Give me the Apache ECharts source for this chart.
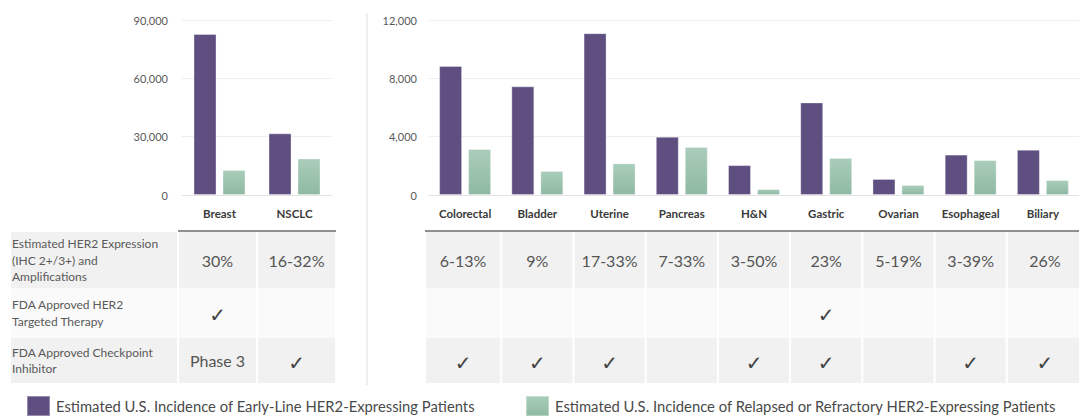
<!DOCTYPE html>
<html>
<head>
<meta charset="utf-8">
<script src="https://cdn.jsdelivr.net/npm/echarts@6/dist/echarts.min.js"></script>
<style>
  html, body { margin: 0; padding: 0; background: #ffffff; }
  #chart { width: 1079px; height: 418px; }
</style>
</head>
<body>
<div id="chart"></div>
<script>
// data
const leftCategories = ['Breast', 'NSCLC']
const leftEarly = [82800, 31700]
const leftRelapsed = [12900, 18800]

const rightCategories = ['Colorectal', 'Bladder', 'Uterine', 'Pancreas', 'H&N', 'Gastric', 'Ovarian', 'Esophageal', 'Biliary']
const rightEarly = [8850, 7450, 11100, 4000, 2050, 6350, 1100, 2770, 3110]
const rightRelapsed = [3150, 1650, 2170, 3290, 410, 2540, 690, 2400, 1030]

const rowLabels = [
  'Estimated HER2 Expression\n(IHC 2+/3+) and\nAmplifications',
  'FDA Approved HER2\nTargeted Therapy',
  'FDA Approved Checkpoint\nInhibitor'
]
const leftExpression = ['30%', '16-32%']
const leftTargeted = ['✓', '']
const leftCheckpoint = ['Phase 3', '✓']
const rightExpression = ['6-13%', '9%', '17-33%', '7-33%', '3-50%', '23%', '5-19%', '3-39%', '26%']
const rightTargeted = ['', '', '', '', '', '✓', '', '', '']
const rightCheckpoint = ['✓', '✓', '✓', '', '✓', '✓', '', '✓', '✓']

const earlyName = 'Estimated U.S. Incidence of Early-Line HER2-Expressing Patients'
const relapsedName = 'Estimated U.S. Incidence of Relapsed or Refractory HER2-Expressing Patients'

const FONT = 'Lato, "Open Sans", sans-serif'
const PURPLE = '#5e4f80'
const GREEN = new echarts.graphic.LinearGradient(0, 0, 0, 1, [
  {offset: 0, color: '#a9cdba'},
  {offset: 1, color: '#8fb9a2'}
])

let chart = echarts.init(document.getElementById('chart'), null, {renderer: 'svg'})

function yAxisCfg(gridIndex, max, interval, margin) {
  return {
    type: 'value', gridIndex: gridIndex, min: 0, max: max, interval: interval,
    axisLine: {show: false}, axisTick: {show: false},
    splitLine: {lineStyle: {color: '#eeeeee'}},
    axisLabel: {
      color: '#595959', fontSize: 11, fontFamily: FONT, margin: margin,
      formatter: v => v.toLocaleString('en-US')
    }
  }
}
function xAxisCfg(gridIndex, data) {
  return {
    type: 'category', gridIndex: gridIndex, data: data,
    axisLine: {lineStyle: {color: '#e4e4e4'}}, axisTick: {show: false},
    axisLabel: {interval: 0, color: '#3a3a3a', fontSize: 11.5, fontWeight: 'bold', fontFamily: FONT, margin: 12}
  }
}
function barCfg(name, data, idx, color) {
  return {
    name: name, type: 'bar', xAxisIndex: idx, yAxisIndex: idx, data: data,
    barWidth: 23, barGap: '26%',
    itemStyle: {color: color, borderColor: 'rgba(255,255,255,0.35)', borderWidth: 1}
  }
}
function legendCfg(name, left) {
  return {
    data: [name], left: left, top: 392, padding: [3, 5, 3, 5],
    itemWidth: 23, itemHeight: 20, icon: 'rect', itemGap: 6,
    textStyle: {color: '#4a4a4a', fontSize: 14.8, lineHeight: 18, fontFamily: FONT, padding: [0, 0, 0, 1]}
  }
}

let option = {
  animation: false,
  textStyle: {fontFamily: FONT},
  grid: [
    {left: 182, top: 20, width: 150, height: 175},
    {left: 429, top: 20, width: 661, height: 175}
  ],
  xAxis: [xAxisCfg(0, leftCategories), xAxisCfg(1, rightCategories)],
  yAxis: [yAxisCfg(0, 90000, 30000, 14), yAxisCfg(1, 12000, 4000, 12)],
  legend: [legendCfg(earlyName, 21), legendCfg(relapsedName, 520)],
  series: [
    barCfg(earlyName, leftEarly, 0, PURPLE),
    barCfg(relapsedName, leftRelapsed, 0, GREEN),
    barCfg(earlyName, rightEarly, 1, PURPLE),
    barCfg(relapsedName, rightRelapsed, 1, GREEN)
  ]
}
chart.setOption(option)

// table under the charts, columns follow the category axes
const rowTops = [232, 288, 338]
const rowBottoms = [288, 338, 383]
const rowFills = ['#f1f1f1', '#fafafa', '#f1f1f1']
let graphics = []

function cell(x0, x1, r, text, isLabel) {
  graphics.push({
    type: 'rect', silent: true,
    shape: {x: x0 + 1, y: rowTops[r], width: x1 - x0 - 2, height: rowBottoms[r] - rowTops[r]},
    style: {fill: rowFills[r]}
  })
  if (!text) return
  let check = text === '✓'
  graphics.push({
    type: 'text', silent: true,
    x: isLabel ? x0 + 2 : (x0 + x1) / 2,
    y: (rowTops[r] + rowBottoms[r]) / 2 + (check ? 2 : 0),
    style: {
      text: text, fill: isLabel ? '#595959' : (check ? '#444444' : '#555555'),
      font: isLabel ? '12px ' + FONT : (check ? 'bold 20px "DejaVu Sans", sans-serif' : '16px ' + FONT),
      lineHeight: 16.5,
      align: isLabel ? 'left' : 'center', verticalAlign: 'middle'
    }
  })
}

function columnEdges(axisIndex, n, padOuter) {
  let centers = []
  for (let i = 0; i < n; i++) centers.push(chart.convertToPixel({xAxisIndex: axisIndex}, i))
  let step = n > 1 ? centers[1] - centers[0] : 80
  let edges = [centers[0] - step / 2 - padOuter]
  for (let i = 0; i < n - 1; i++) edges.push((centers[i] + centers[i + 1]) / 2)
  edges.push(centers[n - 1] + step / 2 + padOuter)
  return edges
}

let leftEdges = columnEdges(0, leftCategories.length, 4)
let rightEdges = columnEdges(1, rightCategories.length, 4)
const leftRows = [leftExpression, leftTargeted, leftCheckpoint]
const rightRows = [rightExpression, rightTargeted, rightCheckpoint]

for (let r = 0; r < 3; r++) {
  cell(10, leftEdges[0], r, rowLabels[r], true)
  for (let i = 0; i < leftCategories.length; i++) cell(leftEdges[i], leftEdges[i + 1], r, leftRows[r][i])
  for (let i = 0; i < rightCategories.length; i++) cell(rightEdges[i], rightEdges[i + 1], r, rightRows[r][i])
}

// dark rules on top of the table
graphics.push({type: 'line', silent: true, shape: {x1: leftEdges[0], y1: 231, x2: leftEdges[leftEdges.length - 1], y2: 231},
  style: {stroke: '#6b6b6b', lineWidth: 1.5}})
graphics.push({type: 'line', silent: true, shape: {x1: rightEdges[0], y1: 231, x2: 1079, y2: 231},
  style: {stroke: '#6b6b6b', lineWidth: 1.5}})
// divider between the two charts
graphics.push({type: 'line', silent: true, shape: {x1: 367, y1: 13, x2: 367, y2: 385},
  style: {stroke: '#dddddd', lineWidth: 1}})

chart.setOption({graphic: graphics})
</script>
</body>
</html>
